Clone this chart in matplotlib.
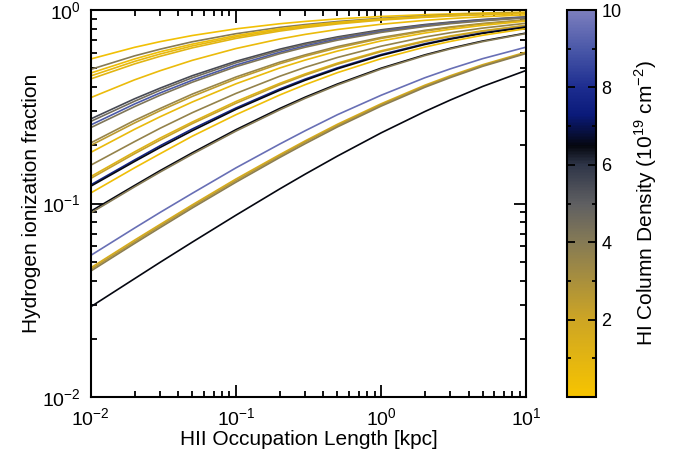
import numpy as np
import matplotlib
matplotlib.use('Agg')
import matplotlib.pyplot as plt
from matplotlib.colors import LinearSegmentedColormap, Normalize
from matplotlib.ticker import LogLocator, FixedLocator, NullFormatter

plt.rcParams['font.family'] = ['Liberation Sans', 'DejaVu Sans']
plt.rcParams['mathtext.fontset'] = 'custom'
plt.rcParams['mathtext.rm'] = 'Liberation Sans'

# longitud de ocupacion HII [kpc]
longitud = [0.01, 0.02, 0.03, 0.05, 0.1, 0.2, 0.3, 0.5, 1.0, 2.0, 3.0, 5.0, 10.0]

# densidad de columna HI (1e19 cm^-2) de cada curva
densidad = [0.3, 4.0, 0.5, 0.8, 1.0, 0.6, 5.5, 4.5, 9.0, 4.2, 3.5, 2.5, 0.7,
            3.6, 1.2, 2.2, 7.6, 6.5, 0.4, 6.5, 4.0, 9.6, 1.5, 2.5, 3.8, 6.5]

fraccion = [
    [0.559, 0.642, 0.687, 0.739, 0.800, 0.850, 0.874, 0.900, 0.927, 0.947, 0.956, 0.966, 0.976],
    [0.494, 0.580, 0.628, 0.686, 0.755, 0.814, 0.842, 0.873, 0.907, 0.932, 0.944, 0.956, 0.969],
    [0.473, 0.559, 0.609, 0.667, 0.739, 0.801, 0.831, 0.864, 0.900, 0.927, 0.940, 0.953, 0.966],
    [0.457, 0.543, 0.593, 0.653, 0.727, 0.790, 0.822, 0.856, 0.894, 0.922, 0.936, 0.950, 0.964],
    [0.441, 0.527, 0.577, 0.638, 0.714, 0.779, 0.812, 0.848, 0.888, 0.918, 0.932, 0.946, 0.961],
    [0.353, 0.436, 0.486, 0.550, 0.633, 0.709, 0.749, 0.794, 0.845, 0.885, 0.904, 0.924, 0.945],
    [0.274, 0.348, 0.395, 0.458, 0.544, 0.628, 0.674, 0.727, 0.791, 0.842, 0.867, 0.894, 0.923],
    [0.266, 0.338, 0.385, 0.447, 0.534, 0.618, 0.665, 0.719, 0.783, 0.836, 0.862, 0.890, 0.920],
    [0.255, 0.327, 0.373, 0.434, 0.520, 0.605, 0.653, 0.708, 0.774, 0.829, 0.856, 0.885, 0.916],
    [0.247, 0.317, 0.363, 0.424, 0.510, 0.595, 0.643, 0.699, 0.767, 0.823, 0.851, 0.880, 0.912],
    [0.206, 0.269, 0.310, 0.368, 0.451, 0.538, 0.587, 0.648, 0.722, 0.786, 0.818, 0.853, 0.892],
    [0.200, 0.261, 0.302, 0.358, 0.441, 0.528, 0.578, 0.638, 0.714, 0.779, 0.812, 0.848, 0.888],
    [0.184, 0.242, 0.281, 0.335, 0.416, 0.502, 0.552, 0.614, 0.693, 0.761, 0.796, 0.834, 0.877],
    [0.158, 0.209, 0.245, 0.295, 0.371, 0.455, 0.506, 0.569, 0.651, 0.726, 0.764, 0.807, 0.855],
    [0.138, 0.185, 0.218, 0.264, 0.337, 0.418, 0.468, 0.532, 0.616, 0.694, 0.735, 0.782, 0.835],
    [0.135, 0.181, 0.213, 0.259, 0.330, 0.411, 0.461, 0.525, 0.610, 0.688, 0.730, 0.777, 0.832],
    [0.125, 0.168, 0.199, 0.243, 0.312, 0.391, 0.440, 0.503, 0.589, 0.670, 0.713, 0.762, 0.819],
    [0.123, 0.165, 0.195, 0.238, 0.307, 0.385, 0.434, 0.497, 0.583, 0.664, 0.708, 0.758, 0.816],
    [0.1135, 0.153, 0.181, 0.223, 0.288, 0.364, 0.412, 0.475, 0.561, 0.644, 0.689, 0.741, 0.802],
    [0.0913, 0.124, 0.148, 0.183, 0.241, 0.310, 0.355, 0.415, 0.501, 0.587, 0.635, 0.692, 0.761],
    [0.0895, 0.122, 0.1455, 0.180, 0.237, 0.305, 0.350, 0.410, 0.496, 0.582, 0.630, 0.687, 0.757],
    [0.054, 0.0747, 0.090, 0.113, 0.153, 0.203, 0.238, 0.288, 0.363, 0.447, 0.497, 0.561, 0.644],
    [0.0466, 0.0647, 0.078, 0.0985, 0.134, 0.179, 0.211, 0.257, 0.328, 0.409, 0.458, 0.522, 0.607],
    [0.0457, 0.0634, 0.0766, 0.0967, 0.1315, 0.176, 0.208, 0.253, 0.324, 0.404, 0.453, 0.517, 0.602],
    [0.0448, 0.0622, 0.0751, 0.0949, 0.129, 0.173, 0.204, 0.249, 0.319, 0.399, 0.448, 0.512, 0.597],
    [0.0293, 0.0409, 0.0497, 0.0632, 0.0871, 0.119, 0.142, 0.176, 0.232, 0.299, 0.343, 0.403, 0.488],
]

# mapa de color amarillo -> gris -> negro -> azul -> lavanda
cmap = LinearSegmentedColormap.from_list('hi', [
    (0.00, '#f7c400'), (0.20, '#cda524'), (0.40, '#857a55'),
    (0.50, '#5f5f62'), (0.60, '#2e3548'), (0.65, '#05070f'),
    (0.73, '#0a1a7a'), (0.80, '#1c2c8f'), (0.90, '#4a58a8'),
    (1.00, '#7c7ebe')])
norm = Normalize(vmin=0, vmax=10)

fig = plt.figure(figsize=(6.73, 4.59), dpi=100)
ax = fig.add_axes([0.135, 0.135, 0.647, 0.843])

for d, f in zip(densidad, fraccion):
    ax.plot(longitud, f, color=cmap(norm(d)), lw=1.2)

ax.set_xscale('log')
ax.set_yscale('log')
ax.set_xlim(0.01, 10)
ax.set_ylim(0.01, 1)

def pot(v):
    return r'$\mathregular{10^{%d}}$' % int(round(np.log10(v)))

ax.set_xticks([0.01, 0.1, 1, 10])
ax.set_xticklabels([pot(v) for v in [0.01, 0.1, 1, 10]])
ax.set_yticks([0.01, 0.1, 1])
ax.set_yticklabels([pot(v) for v in [0.01, 0.1, 1]])
ax.xaxis.set_minor_locator(LogLocator(base=10, subs=np.arange(2, 10)))
ax.yaxis.set_minor_locator(LogLocator(base=10, subs=np.arange(2, 10)))
ax.xaxis.set_minor_formatter(NullFormatter())
ax.yaxis.set_minor_formatter(NullFormatter())
ax.tick_params(which='both', direction='in', top=True, right=True,
               labelsize=14, width=1.3, pad=7)
ax.tick_params(which='major', length=9)
ax.tick_params(which='minor', length=4.5)
for s in ax.spines.values():
    s.set_linewidth(1.5)

ax.set_xlabel('HII Occupation Length [kpc]', fontsize=15, labelpad=1)
ax.set_ylabel('Hydrogen ionization fraction', fontsize=15, labelpad=1)

# barra de color
cax = fig.add_axes([0.842, 0.135, 0.044, 0.843])
sm = matplotlib.cm.ScalarMappable(norm=norm, cmap=cmap)
cb = fig.colorbar(sm, cax=cax)
cb.set_ticks([2, 4, 6, 8, 10])
cb.ax.yaxis.set_minor_locator(FixedLocator([1, 3, 5, 7, 9]))
cb.ax.tick_params(which='both', direction='in', left=True, right=True,
                  labelsize=13, width=1.3)
cb.ax.tick_params(which='major', length=6)
cb.ax.tick_params(which='minor', length=3)
cb.outline.set_linewidth(1.5)
cb.set_label(r'HI Column Density (10$^{19}$ cm$^{-2}$)', fontsize=15, labelpad=8)

plt.savefig('out.png', dpi=100)
